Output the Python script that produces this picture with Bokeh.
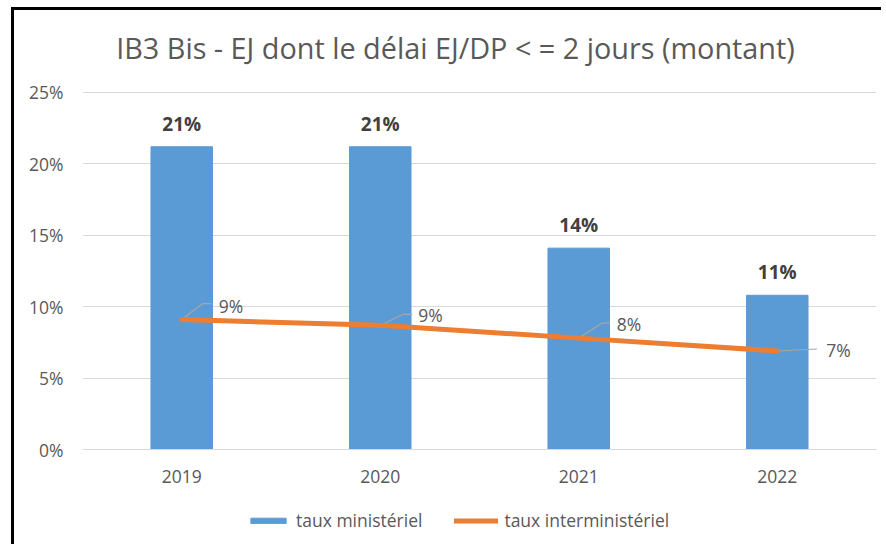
from bokeh.plotting import figure
from bokeh.models import (ColumnDataSource, FixedTicker, NumeralTickFormatter,
                          Legend, LegendItem, Label)
from bokeh.core.properties import value
from bokeh.embed import file_html
from bokeh.resources import INLINE

# ---- data ----
years = ["2019", "2020", "2021", "2022"]
taux_ministeriel = [0.212, 0.212, 0.141, 0.108]
taux_interministeriel = [0.091, 0.087, 0.078, 0.069]
labels_ministeriel = ["21%", "21%", "14%", "11%"]
labels_interministeriel = ["9%", "9%", "8%", "7%"]
y_ticks = [0, 0.05, 0.10, 0.15, 0.20, 0.25]
title_text = "IB3 Bis - EJ dont le délai EJ/DP < = 2 jours (montant)"
legend_labels = ["taux ministériel", "taux interministériel"]

# ---- styles / label placement (screen px and category offsets) ----
FONT = "Open Sans"
GREY = "#595959"
FS = "17.5px"
lab_dx = [37, 38, 38, 49]
lab_dy = [-14, -10, -14, -1]
lead_dx1 = [0.106, 0.116, 0.116, 0.20]
lead_dx2 = [0.151, 0.161, 0.156, 0.20]
lead_dy1 = [0.0112, 0.0077, 0.0105, 0.0014]
Y_BOTTOM = -0.0686   # room below the 0 line for axis labels and legend
Y_TOP = 0.3074       # room above 25 % for the title
TITLE_X = 1.879      # title centre (synthetic categorical coordinate)
TITLE_Y = 0.2815

W, H = 870, 537
p = figure(x_range=years, y_range=(Y_BOTTOM, Y_TOP), width=W, height=H,
           output_backend="svg", toolbar_location=None,
           min_border_left=68, min_border_right=8, min_border_top=0,
           min_border_bottom=0)
p.styles = {"border-top": "3px solid black", "border-left": "3px solid black",
            "margin-top": "7px", "margin-left": "11px"}
p.outline_line_color = None
p.background_fill_color = "white"
p.border_fill_color = "white"

p.add_layout(Label(x=TITLE_X, y=TITLE_Y, text=title_text, text_align="center",
                   text_baseline="middle", text_font=FONT,
                   text_font_size="28.8px", text_color=GREY))

src = ColumnDataSource(dict(years=years, m=taux_ministeriel, i=taux_interministeriel,
                            lm=labels_ministeriel, li=labels_interministeriel,
                            dx=lab_dx, dy=lab_dy))

bars = p.vbar(x="years", top="m", bottom=0, width=0.31, color="#5B9BD5", source=src)

# leader lines (synthetic categorical coordinates: centre of factor k is k + 0.5)
xs, ys = [], []
for k, yr in enumerate(years):
    v = taux_interministeriel[k]
    c = years.index(yr) + 0.5
    xs.append([c, c + lead_dx1[k], c + lead_dx2[k]])
    ys.append([v, v + lead_dy1[k], v + lead_dy1[k]])
p.multi_line(xs=xs, ys=ys, line_color="#A6A6A6", line_width=1.2)

line = p.line(x="years", y="i", line_width=5, color="#ED7D31", line_cap="round",
              source=src)

p.text(x="years", y="m", text="lm", text_align="center", text_baseline="bottom",
       y_offset=-10, text_font=value(FONT), text_font_style="bold",
       text_font_size="19px", text_color="#404040", source=src)
p.text(x="years", y="i", text="li", text_align="left", text_baseline="middle",
       x_offset="dx", y_offset="dy", text_font=value(FONT),
       text_font_size=FS, text_color=GREY, source=src)

# axes
p.yaxis.ticker = FixedTicker(ticks=y_ticks)
p.yaxis.formatter = NumeralTickFormatter(format="0%")
p.yaxis.axis_line_color = None
p.yaxis.major_tick_line_color = None
p.yaxis.minor_tick_line_color = None
p.yaxis.major_label_standoff = 13
p.xaxis.fixed_location = 0
p.xaxis.axis_line_color = "#D9D9D9"
p.xaxis.major_tick_line_color = None
p.xaxis.minor_tick_line_color = None
p.xaxis.major_label_standoff = 14
for ax in (p.xaxis, p.yaxis):
    ax.major_label_text_font = FONT
    ax.major_label_text_font_size = FS
    ax.major_label_text_color = GREY
p.xgrid.grid_line_color = None
p.ygrid.grid_line_color = "#D9D9D9"
p.ygrid.grid_line_width = 1
p.x_range.range_padding = 0

legend = Legend(items=[LegendItem(label=legend_labels[0], renderers=[bars]),
                       LegendItem(label=legend_labels[1], renderers=[line])],
                orientation="horizontal", location=(164, 15),
                border_line_color=None, background_fill_alpha=0,
                label_text_font=FONT, label_text_font_size=FS,
                label_text_color=GREY, glyph_width=44, glyph_height=7,
                label_standoff=6, spacing=32, padding=0, margin=0)
p.add_layout(legend, "center")

open("out.html", "w").write(file_html(p, INLINE))
